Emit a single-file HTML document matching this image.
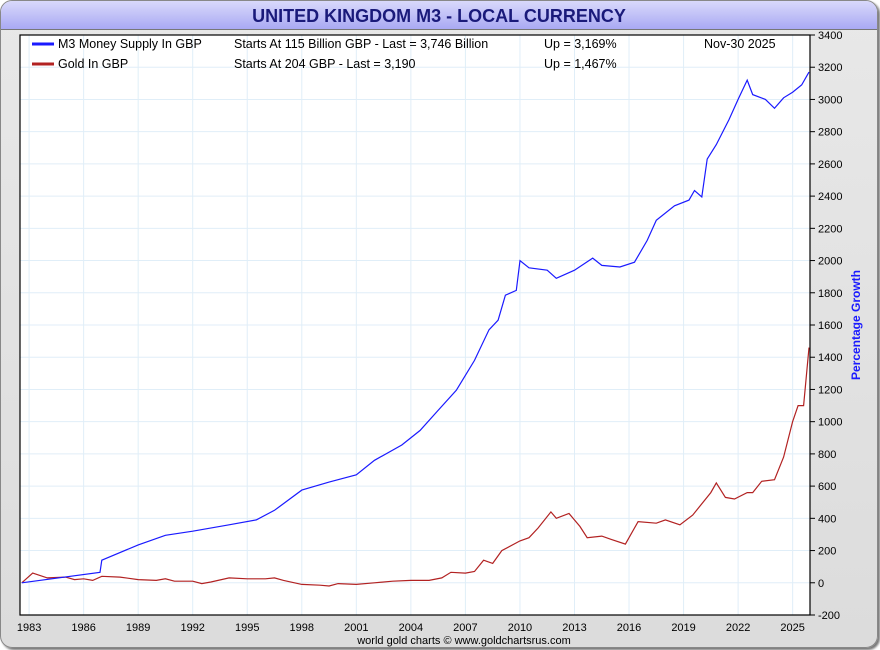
<!DOCTYPE html>
<html><head><meta charset="utf-8"><style>
html,body{margin:0;padding:0;background:#fff}
#frame{position:absolute;left:0;top:0;width:876px;height:646px;border:1px solid #888;border-radius:12px;background:linear-gradient(#e8e8e8,#dcdcdc);overflow:hidden;box-shadow:2px 2px 2px #777}
#title{position:absolute;left:0;top:0;width:876px;height:28px;background:linear-gradient(#d9d9fb,#a9a9f3);border-bottom:1px solid #777;text-align:center;font:bold 18px "Liberation Sans",sans-serif;color:#1a1a7a;line-height:30px}
svg{position:absolute;left:0;top:0}
text{font-family:"Liberation Sans",sans-serif}
</style></head><body>
<div id="frame">
<div id="title">UNITED KINGDOM M3 - LOCAL CURRENCY</div>
</div>
<svg id="chart" width="880" height="650"></svg>
<script>
const m3Years=[1982.6,1986.9,1987.0,1989,1990.5,1992,1994,1995.5,1996.5,1998,1999.5,2001,2002,2003.5,2004.5,2005.5,2006.5,2007.5,2008.3,2008.8,2009.2,2009.8,2010,2010.5,2011.5,2012,2013,2014,2014.5,2015.5,2016.3,2017,2017.5,2018.5,2019.3,2019.6,2020,2020.3,2020.8,2021.5,2022,2022.5,2022.8,2023.5,2024,2024.5,2025,2025.5,2025.9];
const m3Values=[0,65,140,235,295,320,360,390,450,575,625,670,760,855,945,1070,1195,1380,1570,1630,1785,1815,2000,1955,1940,1890,1940,2015,1970,1960,1990,2125,2250,2340,2375,2435,2395,2630,2720,2875,3000,3120,3030,3000,2945,3010,3045,3090,3170];
const goldYears=[1982.6,1983.2,1984,1985,1985.5,1986,1986.5,1987,1988,1989,1990,1990.5,1991,1992,1992.5,1993,1994,1995,1996,1996.5,1997,1998,1999,1999.5,2000,2001,2002,2003,2004,2005,2005.7,2006.2,2007,2007.5,2008,2008.5,2009,2010,2010.5,2011,2011.7,2012,2012.7,2013.3,2013.7,2014.5,2015,2015.8,2016.5,2017.5,2018,2018.8,2019.5,2020.5,2020.8,2021.3,2021.8,2022.5,2022.8,2023.3,2024,2024.5,2025,2025.3,2025.6,2025.9];
const goldValues=[0,60,30,35,20,25,15,40,35,20,15,25,10,10,-5,5,30,25,25,30,15,-10,-15,-20,-5,-10,0,10,15,15,30,65,60,70,140,120,200,260,280,340,440,400,430,350,280,290,270,240,380,370,390,360,420,560,620,530,520,560,560,630,640,780,1000,1100,1100,1460];
const yTicks=[-200,0,200,400,600,800,1000,1200,1400,1600,1800,2000,2200,2400,2600,2800,3000,3200,3400];
const xTicks=[1983,1986,1989,1992,1995,1998,2001,2004,2007,2010,2013,2016,2019,2022,2025];
const L=20,R=810,T=35,B=615;
const x=v=>L+(v-1982.5)*18.18;
const y=v=>B-(v+200)*(B-T)/3600;
const svg=document.getElementById('chart');
const NS='http://www.w3.org/2000/svg';
function mk(tag,attrs,txt){const e=document.createElementNS(NS,tag);for(const k in attrs)e.setAttribute(k,attrs[k]);if(txt!==undefined)e.textContent=txt;svg.appendChild(e);return e;}
let bg=mk('rect',{x:L,y:T,width:R-L,height:B-T,fill:'#fff'});


yTicks.forEach(t=>{
 let g=mk('line',{x1:L,x2:R,y1:y(t),y2:y(t),stroke:'#e0eef8','stroke-width':1});
 
 
 let tk=mk('line',{x1:R,x2:R+5,y1:y(t),y2:y(t),stroke:'#000'});
 
 
 let lb=mk('text',{x:R+8,y:y(t)+4,'font-size':11,fill:'#000'},t);
 
 
});
xTicks.forEach(t=>{
 let g=mk('line',{x1:x(t),x2:x(t),y1:T,y2:B,stroke:'#e0eef8','stroke-width':1});
 
 
 let lb=mk('text',{x:x(t),y:B+16,'font-size':11,'text-anchor':'middle',fill:'#000'},t);
 
 
});
function line(xs,vs,color,name){
 let d=xs.map((v,i)=>(i?'L':'M')+x(v).toFixed(1)+','+y(vs[i]).toFixed(1)).join('');
 let p=mk('path',{d:d,fill:'none',stroke:color,'stroke-width':1.2});
 
 
}
line(goldYears,goldValues,'#b22222','gold-line');
line(m3Years,m3Values,'#1a1aff','m3-line');
let bd=mk('rect',{x:L,y:T,width:R-L,height:B-T,fill:'none',stroke:'#000','stroke-width':1.2});


let lg1=mk('line',{x1:32,x2:54,y1:44,y2:44,stroke:'#1a1aff','stroke-width':3});


let lg2=mk('line',{x1:32,x2:54,y1:64,y2:64,stroke:'#b22222','stroke-width':3});


[[58,48,'M3 Money Supply In GBP','legend-m3-label'],[234,48,'Starts At 115 Billion GBP - Last = 3,746 Billion','legend-m3-range'],[544,48,'Up = 3,169%','legend-m3-growth'],[704,48,'Nov-30  2025','legend-date'],
 [58,68,'Gold In GBP','legend-gold-label'],[234,68,'Starts At 204 GBP - Last = 3,190','legend-gold-range'],[544,68,'Up = 1,467%','legend-gold-growth']].forEach(a=>{
 let t=mk('text',{x:a[0],y:a[1],'font-size':12.5,fill:'#000','xml:space':'preserve'},a[2]);
 
 
});
let yt=mk('text',{x:860,y:325,'font-size':12,'font-weight':'bold',fill:'#1a1aff','text-anchor':'middle',transform:'rotate(-90 860 325)'},'Percentage Growth');


let ft=mk('text',{x:464,y:644,'font-size':11,fill:'#000','text-anchor':'middle'},'world gold charts © www.goldchartsrus.com');


</script>
</body></html>
